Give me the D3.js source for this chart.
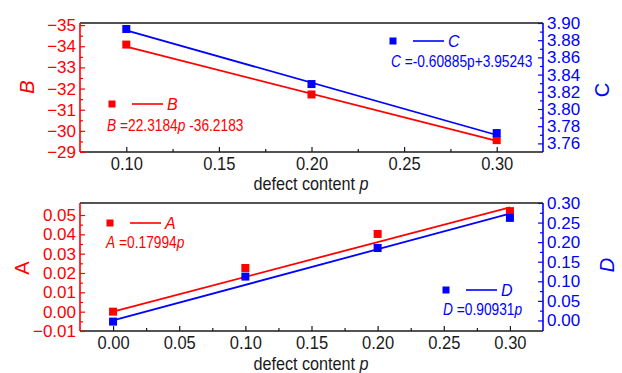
<!DOCTYPE html>
<html><head><meta charset="utf-8">
<script src="https://cdn.jsdelivr.net/npm/d3@7"></script>
<style>
body{margin:0;background:#fff}
svg{display:block;font-family:"Liberation Sans",Arial,sans-serif}
</style>
</head><body><svg id="chart" width="622" height="373"></svg>
<script>
// Defect content p for each panel
const pTop = [0.10, 0.20, 0.30];
const pBottom = [0.00, 0.10, 0.20, 0.30];
// Measured parameters
const seriesB = [-34.08, -31.72, -29.56];
const seriesC = [3.893, 3.829, 3.772];
const seriesA = [0.0000, 0.0226, 0.0402, 0.0520];
const seriesD = [-0.003, 0.112, 0.185, 0.262];
// Linear fits [slope, intercept]
const fitB = [22.3184, -36.2183];
const fitC = [-0.60885, 3.95243];
const fitA = [0.17994, 0];
const fitD = [0.90931, 0];
// Tick values
const ticksXTop = [0.10, 0.15, 0.20, 0.25, 0.30];
const minorXTop = [0.125, 0.175, 0.225, 0.275];
const ticksXBottom = [0.00, 0.05, 0.10, 0.15, 0.20, 0.25, 0.30];
const minorXBottom = [0.025, 0.075, 0.125, 0.175, 0.225, 0.275];
const ticksB = [-35, -34, -33, -32, -31, -30, -29];
const minorB = [-34.5, -33.5, -32.5, -31.5, -30.5, -29.5];
const ticksC = [3.76, 3.78, 3.80, 3.82, 3.84, 3.86, 3.88, 3.90];
const minorC = [3.77, 3.79, 3.81, 3.83, 3.85, 3.87, 3.89];
const ticksA = [-0.01, 0.00, 0.01, 0.02, 0.03, 0.04, 0.05];
const minorA = [-0.005, 0.005, 0.015, 0.025, 0.035, 0.045];
const ticksD = [0.00, 0.05, 0.10, 0.15, 0.20, 0.25, 0.30];
const minorD = [0.025, 0.075, 0.125, 0.175, 0.225, 0.275];

const RED = "#ff0000", BLUE = "#0000ff", INK = "#1a1a1a";
const svg = d3.select("#chart");
const L = 80, R = 543;

function yAxis(g, scale, ticks, minor, color, side, fmt, x) {
  const mk = side === "left" ? d3.axisLeft : d3.axisRight;
  const ax = g.append("g").attr("transform", `translate(${x},0)`);
  ax.call(mk(scale).tickValues(ticks).tickFormat(fmt).tickSize(-5).tickPadding(4));
  ax.append("g").call(mk(scale).tickValues(minor).tickFormat("").tickSize(-3));
  ax.selectAll("path.domain").remove();
  ax.selectAll("line").attr("stroke", color).attr("stroke-width", 1.2);
  ax.selectAll("text").attr("fill", color).style("font-size", "17px");
  ax.append("line").attr("x1", 0).attr("x2", 0)
    .attr("y1", scale.range()[0]).attr("y2", scale.range()[1])
    .attr("stroke", color).attr("stroke-width", 1.6);
  return ax;
}

function xAxis(g, scale, ticks, minor, y, top) {
  const ax = g.append("g").attr("transform", `translate(0,${y})`);
  ax.call(d3.axisBottom(scale).tickValues(ticks).tickFormat(d3.format(".2f")).tickSize(-5).tickPadding(5));
  ax.append("g").call(d3.axisBottom(scale).tickValues(minor).tickFormat("").tickSize(-3));
  ax.selectAll("path.domain").remove();
  ax.selectAll("line").attr("stroke", INK).attr("stroke-width", 1.2);
  ax.selectAll("text").attr("fill", INK).style("font-size", "19px")
    .attr("transform", "scale(0.87,1)");
  ax.append("line").attr("x1", L).attr("x2", R).attr("stroke", INK).attr("stroke-width", 1.6);
  // top frame
  g.append("line").attr("x1", L).attr("x2", R).attr("y1", top).attr("y2", top)
    .attr("stroke", INK).attr("stroke-width", 1.6);
}

function axisTitle(x, y, text, color, italic, rot) {
  svg.append("text").attr("transform", `translate(${x},${y}) rotate(${rot})`)
    .attr("text-anchor", "middle").attr("dominant-baseline", "central")
    .attr("fill", color).style("font-size", "20px")
    .style("font-style", italic ? "italic" : "normal").text(text);
}

// text made of plain/italic runs, narrowed horizontally by factor k
function richText(x, y, parts, color, size, k, anchor) {
  const t = svg.append("text").attr("transform", `translate(${x},${y}) scale(${k},1)`)
    .attr("text-anchor", anchor).attr("fill", color).style("font-size", size + "px");
  parts.forEach(p => t.append("tspan").style("font-style", p.i ? "italic" : "normal").text(p.t));
  return t;
}

function xTitle(y) {
  richText(311, y, [{t: "defect content "}, {t: "p", i: true}], INK, 18, 0.9, "middle");
}

function fitLine(g, xs, ys, fit, p0, p1, color) {
  g.append("line")
    .attr("x1", xs(p0)).attr("y1", ys(fit[0] * p0 + fit[1]))
    .attr("x2", xs(p1)).attr("y2", ys(fit[0] * p1 + fit[1]))
    .attr("stroke", color).attr("stroke-width", 1.8);
}

function points(g, xs, ys, px, vals, color) {
  g.selectAll(null).data(vals).join("rect")
    .attr("x", (d, i) => xs(px[i]) - 4).attr("y", d => ys(d) - 4)
    .attr("width", 8).attr("height", 8).attr("fill", color);
}

function legend(x, y, name, color, parts, eqX, eqY) {
  svg.append("rect").attr("x", x - 3.5).attr("y", y - 3.5).attr("width", 7).attr("height", 7).attr("fill", color);
  svg.append("line").attr("x1", x + 20).attr("x2", x + 51).attr("y1", y).attr("y2", y)
    .attr("stroke", color).attr("stroke-width", 1.6);
  svg.append("text").attr("x", x + 55).attr("y", y + 5.5).attr("fill", color)
    .style("font-size", "16px").style("font-style", "italic").text(name);
  richText(eqX, eqY, parts, color, 16, 0.86, "start");
}

const signed = v => (v >= 0 ? "+" : "") + v;

// ---------- upper panel: B (left) and C (right) ----------
const T0 = 23, T1 = 152;
const xT = d3.scaleLinear().domain([0.075, 0.325]).range([L, R]);
const yB = d3.scaleLinear().domain([-29, -35.1]).range([T1, T0]);
const yC = d3.scaleLinear().domain([3.75, 3.90]).range([T1, T0]);
const gT = svg.append("g");
xAxis(gT, xT, ticksXTop, minorXTop, T1, T0);
yAxis(gT, yB, ticksB, minorB, RED, "left", d3.format("d"), L);
yAxis(gT, yC, ticksC, minorC, BLUE, "right", d3.format(".2f"), R);
fitLine(gT, xT, yB, fitB, 0.10, 0.30, RED);
fitLine(gT, xT, yC, fitC, 0.10, 0.30, BLUE);
points(gT, xT, yB, pTop, seriesB, RED);
points(gT, xT, yC, pTop, seriesC, BLUE);
axisTitle(27, 87, "B", RED, true, -90);
axisTitle(602, 90, "C", BLUE, false, -90);
xTitle(190);
legend(112, 104, "B", RED,
  [{t: "B", i: true}, {t: " =" + fitB[0]}, {t: "p", i: true}, {t: " " + fitB[1]}], 107, 131);
legend(393, 41, "C", BLUE,
  [{t: "C", i: true}, {t: " =" + fitC[0] + "p" + signed(fitC[1])}], 391, 67);

// ---------- lower panel: A (left) and D (right) ----------
const B0 = 203, B1 = 331;
const xB = d3.scaleLinear().domain([-0.025, 0.325]).range([L, R]);
const yA = d3.scaleLinear().domain([-0.01, 0.0562]).range([B1, B0]);
const yD = d3.scaleLinear().domain([-0.027, 0.30]).range([B1, B0]);
const gB = svg.append("g");
xAxis(gB, xB, ticksXBottom, minorXBottom, B1, B0);
yAxis(gB, yA, ticksA, minorA, RED, "left", d3.format(".2f"), L);
yAxis(gB, yD, ticksD, minorD, BLUE, "right", d3.format(".2f"), R);
fitLine(gB, xB, yA, fitA, 0, 0.30, RED);
fitLine(gB, xB, yD, fitD, 0, 0.30, BLUE);
points(gB, xB, yA, pBottom, seriesA, RED);
points(gB, xB, yD, pBottom, seriesD, BLUE);
axisTitle(22, 268, "A", RED, false, -90);
axisTitle(607, 265, "D", BLUE, true, -90);
xTitle(370);
legend(110, 223, "A", RED,
  [{t: "A", i: true}, {t: " =" + fitA[0]}, {t: "p", i: true}], 106, 248);
legend(446, 290, "D", BLUE,
  [{t: "D", i: true}, {t: " =" + fitD[0]}, {t: "p", i: true}], 443, 315);
</script>
</body></html>
